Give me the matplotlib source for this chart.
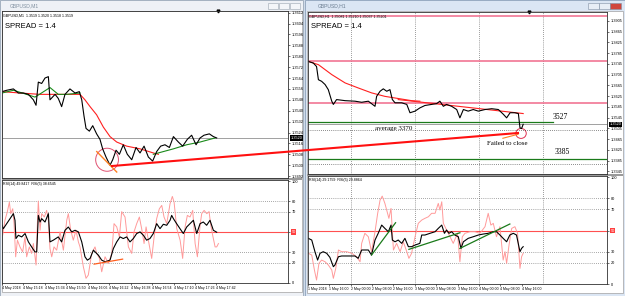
import numpy as np
import matplotlib.pyplot as plt
from matplotlib.patches import Rectangle, Ellipse
from matplotlib.lines import Line2D

W, H = 625, 296

# ---- left window: GBPUSD M1 (x = minutes after 15:02) ----
l_min = [0, 3.5, 8.5, 12.2, 15.9, 19.7, 23.4, 25.4, 27.1, 29.6, 32.1, 34.6, 35.8, 39.6, 42, 44.5,
         47, 50.7, 54.5, 57.7, 59.5, 61.2, 62.7, 65.2, 67.7, 70.6, 73.1, 75.1, 77.6, 80.6, 82.6,
         85.1, 87.6, 90.5, 93.5, 96.8, 100, 103, 106, 109.2, 112.4, 115.4, 118.4, 121.6, 124.9,
         127.9, 131.6, 134.8, 138.3, 141.5, 144.8, 147.8, 150.7, 154.7, 157.7, 160.2]
l_close = [1.3554, 1.3555, 1.3556, 1.3553, 1.3553, 1.3552, 1.3548, 1.3544, 1.3561, 1.3560, 1.3564,
           1.3565, 1.3548, 1.3552, 1.3549, 1.3543, 1.3552, 1.3556, 1.3553, 1.3554, 1.3548, 1.3536,
           1.3527, 1.3525, 1.3529, 1.3523, 1.3519, 1.3512, 1.3506, 1.3500, 1.3504, 1.3511, 1.3508,
           1.3515, 1.3508, 1.3504, 1.3513, 1.3509, 1.3514, 1.3506, 1.3503, 1.3510, 1.3514, 1.3515,
           1.3513, 1.3521, 1.3517, 1.3514, 1.3519, 1.3522, 1.3515, 1.3520, 1.3522, 1.3523, 1.3521,
           1.3520]
l_ma_slow_x = [0, 13.4, 28.4, 43.3, 58.2, 61.9, 65.7, 70.6, 75.6, 80.6, 85.6, 93, 103, 112.9, 116.7]
l_ma_slow = [1.3554, 1.3553, 1.3552, 1.3552, 1.3552, 1.3548, 1.3543, 1.3537, 1.3528, 1.3521,
             1.3517, 1.3514, 1.3512, 1.3509, 1.3508]
l_ma_fast_x = [0, 8.5, 18.4, 24.6, 27.9, 35.8, 42, 48.3, 58.2, np.nan, 112.9, 127.9, 137.8, 147.8, 159]
l_ma_fast = [1.3553, 1.3555, 1.3552, 1.3550, 1.3552, 1.3557, 1.3552, 1.3552, 1.3553, np.nan,
             1.3508, 1.3512, 1.3515, 1.3517, 1.3520]
l_price_ticks = [1.3612, 1.3604, 1.3596, 1.3588, 1.3580, 1.3572, 1.3564, 1.3556, 1.3548, 1.3540,
                 1.3532, 1.3524, 1.3516, 1.3508, 1.3500, 1.3492]
l_time_pos = [0, 16, 32, 48, 64, 80, 96, 112, 128, 144, 160]
l_time_lab = ["4 May 2018", "4 May 15:18", "4 May 15:34", "4 May 15:50", "4 May 16:06",
              "4 May 16:22", "4 May 16:38", "4 May 16:54", "4 May 17:10", "4 May 17:26",
              "4 May 17:42"]

l_rsi_x = [0, 1, 3.5, 6, 8.5, 9.7, 10.4, 12.2, 14.7, 17.2, 19.7, 22.1, 24.6, 25.9, 27.1, 28.4,
           29.6, 32.1, 34.6, 35.8, 38.3, 42, 44.5, 47, 49.5, 52, 54.5, 57, 59.5, 61.9, 63.7, 65.7,
           68.2, 70.6, 71.9, 74.4, 76.9, 80.6, 83.1, 85.6, 88.1, 90.5, 93, 95.5, 98, 100.5, 103,
           105.5, 107.9, 110.4, 112.9, 115.4, 117.9, 120.4, 122.9, 125.4, 126.6, 127.9, 130.3,
           132.8, 135.3, 137.8, 140.3, 142.8, 145.3, 147.8, 150.2, 152.7, 155.2, 157.7, 160.2]
l_rsi = [56.6, 53.3, 58.2, 63.1, 68, 61.5, 43.6, 46.8, 45.2, 48.5, 40.3, 35.4, 30.5, 30.5, 66.3,
         59.8, 63.1, 59.8, 68, 40.3, 42, 45.2, 40.3, 51.7, 54.9, 50.1, 51.7, 50.1, 40.3, 25.7,
         22.4, 24.1, 32.2, 29, 27.3, 22.4, 20.8, 22.4, 33.8, 40.3, 45.2, 43.6, 45.2, 40.3, 43.6,
         48.5, 50.1, 46.8, 42, 43.6, 48.5, 58.2, 53.3, 57.6, 56.6, 61.5, 66.3, 63.1, 58.2, 53.3,
         48.5, 54.9, 58.2, 61.5, 48.5, 58.2, 59.8, 56.6, 61.5, 51.7, 49.8]
l_rsi5_x = [0, 0.5, 2.2, 4, 5.5, 6.5, 8, 9, 10.2, 11.5, 13.4, 15.4, 17.2, 18.4, 20.4, 22.1, 23.4,
            25.4, 26.4, 27.1, 28.4, 29.6, 31.6, 33.3, 34.6, 35.8, 37.1, 38.8, 40.8, 43.3, 45.8,
            48.3, 49.5, 51.3, 53.2, 55.2, 57, 58.2, 60.7, 62.7, 64.4, 66.9, 69.4, 70.7, 72.7, 74.4,
            76.9, 79.4, 81.9, 83.6, 85.6, 87.6, 89.3, 91.8, 94.3, 96.8, 98.5, 100.5, 102.5, 104.2,
            106, 107.5, 109.2, 111.7, 113.5, 115.4, 117.4, 119.2, 120.9, 122.9, 125.4, 127.1,
            128.4, 130.4, 132.9, 134.8, 136.6, 138.3, 140.3, 142.3, 144.1, 145.8, 147.8, 149,
            150.8, 152.8, 154.5, 155.8, 157.2, 159, 160.2, 161.5]
l_rsi5 = [55, 46.8, 61.5, 70, 79.3, 68, 72.8, 58.2, 25.7, 42, 35.4, 30.5, 45.2, 25.7, 35.4, 29,
          38.7, 17.6, 58.2, 80.3, 51.7, 68, 64.7, 71.2, 61.5, 33.8, 25.7, 35.4, 32.2, 50.1, 32.2,
          61.5, 68, 51.7, 42, 51.7, 40.3, 35.4, 15.9, 4.6, 7.8, 29, 35.4, 29, 24.1, 11, 25.7,
          19.2, 29, 58.2, 55, 45.2, 70, 64.7, 35.4, 29, 50.1, 58.2, 64.7, 53.3, 38.7, 55, 42,
          24.1, 45.2, 63.1, 72.8, 76.1, 64.7, 58.2, 77.8, 84.9, 79.3, 53.3, 42, 24.1, 55, 66.3,
          64.7, 71.2, 38.7, 25.7, 56.6, 68, 71.2, 68, 70, 56.6, 46.8, 35.4, 35.4, 38.7]

# ---- right window: GBPUSD H1 (x = hours after 1 May 08:00) ----
r_hour = [0.1, 2.0, 3.2, 3.9, 5.1, 6.4, 7.6, 8.9, 9.5, 10.7, 13.9, 17.6, 20.1, 22.6, 25.1, 25.7,
          27.0, 28.2, 29.5, 30.7, 31.6, 32.6, 35.1, 37.0, 38.2, 40.1, 41.9, 43.8, 46.3, 48.2,
          49.4, 50.7, 51.9, 53.8, 55.7, 56.9, 58.2, 60.0, 61.9, 63.8, 66.3, 68.8, 71.3, 73.2,
          74.4, 75.7, 77.5, 78.8, 79.4, 80.0, 80.6]
r_close = [1.3754, 1.3748, 1.3735, 1.3686, 1.3680, 1.3668, 1.3649, 1.3606, 1.3594, 1.3612,
           1.3608, 1.3606, 1.3602, 1.3606, 1.3587, 1.3624, 1.3643, 1.3652, 1.3643, 1.3649,
           1.3612, 1.3600, 1.3600, 1.3594, 1.3563, 1.3569, 1.3581, 1.3590, 1.3594, 1.3597,
           1.3606, 1.3587, 1.3594, 1.3587, 1.3575, 1.3544, 1.3575, 1.3569, 1.3575, 1.3569,
           1.3575, 1.3578, 1.3575, 1.3557, 1.3544, 1.3563, 1.3563, 1.3560, 1.3507, 1.3504,
           1.3520]
r_ma_x = [0.1, 3.9, 8.9, 13.9, 18.9, 23.8, 28.8, 33.8, 38.8, 41.9]
r_ma = [1.3754, 1.3742, 1.3705, 1.3674, 1.3655, 1.3637, 1.3624, 1.3616, 1.3608, 1.3606]
r_res_x = [33.8, 80.6]
r_res = [1.3612, 1.3560]
r_pink_levels = [1.3923, 1.3754, 1.3601]
r_green_levels = [1.3527, 1.3390]
r_dot_levels = [1.3497, 1.3372]
r_price_ticks = [1.3905, 1.3865, 1.3825, 1.3785, 1.3745, 1.3705, 1.3665, 1.3625, 1.3585,
                 1.3545, 1.3505, 1.3465, 1.3425, 1.3385, 1.3345]
r_days = [16, 40, 64, 88]
r_time_pos = [0, 8, 16, 24, 32, 40, 48, 56, 64, 72, 80]
r_time_lab = ["1 May 2018", "1 May 16:00", "2 May 00:00", "2 May 08:00", "2 May 16:00",
              "3 May 00:00", "3 May 08:00", "3 May 16:00", "4 May 00:00", "4 May 08:00",
              "4 May 16:00"]

r_rsi_x = [0.13, 1.4, 2.6, 3.6, 4.5, 5.7, 7, 8.2, 9.5, 10.1, 11.4, 12.6, 15.1, 17.6, 18.8, 20.1,
           22.6, 23.8, 25.1, 26.3, 27.6, 28.8, 30.1, 31.1, 31.6, 32.6, 33.8, 35.1, 36.3, 37.6,
           38.8, 40.1, 41.9, 42.6, 43.8, 45.7, 47.6, 48.8, 50.1, 51.1, 51.9, 52.8, 53.8, 55, 56.3,
           57.3, 58.2, 60, 61.9, 63.8, 65.6, 67.5, 69.4, 70.6, 71.9, 73.1, 74.4, 75.6, 76.9, 78.1,
           79.4, 80, 80.6]
r_rsi = [42.7, 41.1, 30.2, 22.4, 28.7, 30.2, 28.7, 24.9, 16.2, 17.8, 25.5, 26.2, 26.2, 26.2, 24,
         31.8, 31.8, 27.1, 41.1, 47.4, 55.1, 52, 48.9, 55.1, 41.1, 39.5, 41.1, 38, 42.7, 34.9,
         34.9, 36.4, 38, 45.8, 45.8, 47.4, 48.9, 52, 55.1, 47.4, 50.5, 47.4, 48.9, 45.8, 44.2,
         33.3, 39.5, 42.7, 44.2, 45.8, 46.7, 47.4, 48.9, 48.9, 45.8, 42.7, 39.5, 45.8, 47.4, 45.8,
         30.2, 33.3, 34.9]
r_rsi5_x = [0.13, 1.4, 2.4, 3.2, 4.1, 5.1, 6.4, 7.6, 8.9, 9.5, 10.4, 11.4, 12.6, 14.5, 16.4,
            18.2, 19.5, 20.1, 21.3, 22.6, 23.8, 25.1, 26.1, 27, 27.8, 28.8, 29.8, 30.3, 31.1, 32,
            33.2, 34.5, 35.7, 37, 37.8, 38.8, 40.1, 41.3, 42.6, 43.8, 45.1, 46.3, 47.6, 48.8, 49.4,
            50.1, 50.7, 51.9, 53.2, 54.4, 56, 56.9, 57.8, 58.8, 60.7, 62.5, 64.4, 66.3, 67.5, 68.5,
            69.4, 70.6, 71.9, 73.1, 73.8, 74.4, 75.3, 76.3, 77.5, 78.5, 79.4, 80, 80.6]
r_rsi5 = [28.7, 27.1, 13.1, 3.7, 19.3, 22.4, 20.8, 17.8, 13.1, 5.3, 14.6, 31.8, 30.2, 30.2, 28.7,
          25.5, 20.8, 38, 47.4, 44.2, 30.2, 48.9, 66.1, 78.5, 82.2, 75.4, 66.1, 61.4, 70.7, 31.8,
          38, 30.2, 39.5, 30.2, 24, 28.7, 44.2, 56.7, 59.8, 61.4, 62.9, 66.1, 66.1, 75.4, 69.2,
          76.9, 56.7, 50.5, 44.2, 38, 47.4, 20.8, 44.2, 47.4, 48.9, 48.9, 47.4, 53.6, 66.1, 55.1,
          56.7, 44.2, 53.6, 22.4, 30.2, 19.3, 36.4, 52, 53.6, 47.4, 14.6, 25.5, 28.7]
r_trend_x = [[23.8, 32.8], [37.8, 56.9], [56.9, 75.6]]
r_trend_y = [[27.1, 57.3], [32.4, 47.9], [33.3, 56.1]]

rsi_levels = [80, 70, 30, 20]
rsi_ticks = [100, 80, 70, 50, 30, 20, 0]

plt.rcParams['font.family'] = ['Liberation Sans', 'DejaVu Sans']

fig = plt.figure(figsize=(W / 100, H / 100), dpi=100)
fig.patch.set_facecolor('#cfdbea')


def box(x0, y0, x1, y1, z=-10, **kw):
    fig.add_artist(Rectangle((x0 / W, 1 - y1 / H), (x1 - x0) / W, (y1 - y0) / H,
                             transform=fig.transFigure, zorder=z, **kw))


def px_axes(x0, y0, x1, y1):
    return fig.add_axes([x0 / W, 1 - y1 / H, (x1 - x0) / W, (y1 - y0) / H])


def ftext(x, y, s, **kw):
    fig.text(x / W, 1 - y / H, s, **kw)


# window frames (drawn behind the axes)
box(0, 0, 303, 296, facecolor='#eef1f6', edgecolor='#9aa8b8', lw=0.6, z=-12)
box(2, 11, 302, 292, facecolor='white', edgecolor='#a0a0a0', lw=0.5, z=-11)
box(305, 0, 625, 296, facecolor='#dbe6f4', edgecolor='#8ea2bb', lw=0.6, z=-12)
box(307, 11, 623, 293, facecolor='white', edgecolor='#a0a0a0', lw=0.5, z=-11)
# grey separators between price and indicator panes
box(2, 178, 302, 180, facecolor='#9a9a9a', edgecolor='none', z=-9)
box(307, 174, 623, 176, facecolor='#9a9a9a', edgecolor='none', z=-9)
ftext(10, 5.5, "GBPUSD,M1", fontsize=3.6, color='#8090a0', va='center')
ftext(318, 5.5, "GBPUSD,H1", fontsize=3.6, color='#6a7c90', va='center')
for bx in [268, 279, 290]:
    box(bx, 3, bx + 10, 9, facecolor='#f4f6f9', edgecolor='#9aa4b0', lw=0.4)
for bx, c in [(588, '#e8eef6'), (599, '#e8eef6'), (610, '#d0463c')]:
    box(bx, 3, bx + 11, 9, facecolor=c, edgecolor='#8090a4', lw=0.4)


def style(ax, xlim, ylim):
    ax.set_xlim(*xlim)
    ax.set_ylim(*ylim)
    ax.set_facecolor('none')
    for sp in ax.spines.values():
        sp.set_linewidth(0.6)
        sp.set_color('#303030')
    ax.yaxis.tick_right()
    ax.tick_params(axis='y', labelsize=2.8, length=1.5, width=0.4, pad=1.2)
    ax.tick_params(axis='x', labelsize=2.5, length=1.5, width=0.4, pad=1)


def rsi_panel(ax, xlim):
    style(ax, xlim, (0, 101))
    for lv in rsi_levels:
        ax.axhline(lv, color='#555555', lw=0.5, ls=(0, (1, 2)))
    ax.axhline(50, color='#ff5050', lw=0.8)
    ax.set_yticks(rsi_ticks)
    ax.set_yticklabels([str(t) if t != 50 else '' for t in rsi_ticks])
    ax.text(1.012, 50, '50', transform=ax.get_yaxis_transform(), fontsize=2.8, color='white',
            va='center', ha='left', bbox=dict(boxstyle='square,pad=0.15', fc='#ff4040', ec='none'))


def time_axis(ax, pos, labels):
    ax.set_xticks(pos)
    ax.set_xticklabels(labels, ha='left')


# ---- left price ----
axL = px_axes(2, 11, 288, 178)
style(axL, (0, 213.4), (1.34906, 1.36132))
axL.axhline(1.3520, color='#909090', lw=0.6)
axL.plot(l_ma_slow_x, l_ma_slow, color='#ff2020', lw=0.8)
axL.plot(l_ma_fast_x, l_ma_fast, color='#1a8a1a', lw=0.8)
axL.plot(l_min, l_close, color='black', lw=0.8)
axL.plot([70.7, 85.6], [1.3510, 1.3495], color='#ff8020', lw=1.0)
axL.add_patch(Ellipse((78.4, 1.3504), 17, 0.00169, fill=False, ec='#e05070', lw=0.7))
axL.set_yticks(l_price_ticks)
axL.set_yticklabels([f"{t:.4f}" for t in l_price_ticks])
axL.set_xticks([])
axL.text(1.01, 1.3520, '1.3520', transform=axL.get_yaxis_transform(), fontsize=2.8,
         color='white', va='center', ha='left',
         bbox=dict(boxstyle='square,pad=0.15', fc='black', ec='none'))
axL.text(0.005, 0.985, "GBPUSD,M1  1.3519 1.3520 1.3518 1.3519", transform=axL.transAxes,
         fontsize=2.6, va='top')
axL.text(0.01, 0.93, "SPREAD = 1.4", transform=axL.transAxes, fontsize=5.5, va='top')
axL.plot([0.755], [1.0], marker='v', ms=2, color='black', transform=axL.transAxes, clip_on=False)

# ---- left RSI ----
axLr = px_axes(2, 180, 288, 283)
rsi_panel(axLr, (0, 213.4))
axLr.plot(l_rsi5_x, l_rsi5, color='#ff9a9a', lw=0.7)
axLr.plot(l_rsi_x, l_rsi, color='black', lw=0.8)
axLr.plot([68.7, 90], [18.5, 23.4], color='#ff6020', lw=0.9)
axLr.text(0.005, 0.985, "RSI(14) 49.8417  RSI(5) 38.6545", transform=axLr.transAxes,
          fontsize=2.6, va='top')
time_axis(axLr, l_time_pos, l_time_lab)

# ---- right price ----
axR = px_axes(308, 12, 607, 174)
style(axR, (0, 112), (1.3335, 1.3938))
for d in r_days:
    axR.axvline(d, color='#404040', lw=0.5, ls=(0, (1, 2)))
for lv in r_pink_levels:
    axR.axhline(lv, color='#f06a8a', lw=1.1)
axR.plot([0, 91.6], [r_green_levels[0]] * 2, color='#1a7a1a', lw=0.9)
axR.axhline(r_green_levels[1], color='#1a7a1a', lw=0.9)
for lv in r_dot_levels:
    axR.axhline(lv, color='#202020', lw=0.5, ls=(0, (1, 2)))
axR.axhline(1.3520, color='#909090', lw=0.6)
axR.plot(r_ma_x, r_ma, color='#ff2020', lw=0.8)
axR.plot(r_res_x, r_res, color='#ff2020', lw=0.8)
axR.plot(r_hour, r_close, color='black', lw=0.8)
axR.plot([73, 78.7], [1.3468, 1.3483], color='#ff8020', lw=0.8)
axR.add_patch(Ellipse((79.8, 1.3486), 3.9, 0.0037, fill=False, ec='#e03050', lw=0.7))
serif = ['Liberation Serif', 'DejaVu Serif']
axR.text(91.5, 1.3533, "3527", fontsize=5.5, family=serif, va='bottom')
axR.text(92.5, 1.3403, "3385", fontsize=5.5, family=serif, va='bottom')
axR.text(25, 1.3503, "average 3370", fontsize=5, family=serif, va='center')
axR.text(67, 1.3449, "Failed to close", fontsize=5, family=serif, va='center')
axR.set_yticks(r_price_ticks)
axR.set_yticklabels([f"{t:.4f}" for t in r_price_ticks])
axR.set_xticks([])
axR.text(1.01, 1.3520, '1.3520', transform=axR.get_yaxis_transform(), fontsize=2.8,
         color='white', va='center', ha='left',
         bbox=dict(boxstyle='square,pad=0.15', fc='black', ec='none'))
axR.text(0.005, 0.985, "GBPUSD,H1  1.35081 1.35210 1.35037 1.35201", transform=axR.transAxes,
         fontsize=2.6, va='top')
axR.text(0.01, 0.93, "SPREAD = 1.4", transform=axR.transAxes, fontsize=5.5, va='top')
axR.plot([0.74], [1.0], marker='v', ms=2, color='black', transform=axR.transAxes, clip_on=False)

# ---- right RSI ----
axRr = px_axes(308, 176, 607, 284)
rsi_panel(axRr, (0, 112))
for d in r_days:
    axRr.axvline(d, color='#404040', lw=0.5, ls=(0, (1, 2)))
axRr.plot(r_rsi5_x, r_rsi5, color='#ff9a9a', lw=0.7)
axRr.plot(r_rsi_x, r_rsi, color='black', lw=0.8)
for tx, ty in zip(r_trend_x, r_trend_y):
    axRr.plot(tx, ty, color='#1a7a1a', lw=0.9)
axRr.text(0.005, 0.985, "RSI(14) 29.1759  RSI(5) 29.8864", transform=axRr.transAxes,
          fontsize=2.6, va='top')
time_axis(axRr, r_time_pos, r_time_lab)

# red trend line drawn across both windows
fig.add_artist(Line2D([112 / W, 518 / W], [1 - 166 / H, 1 - 133 / H], transform=fig.transFigure,
                      color='#ff1010', lw=1.5))

fig.savefig('out.png', dpi=100, facecolor=fig.get_facecolor())
